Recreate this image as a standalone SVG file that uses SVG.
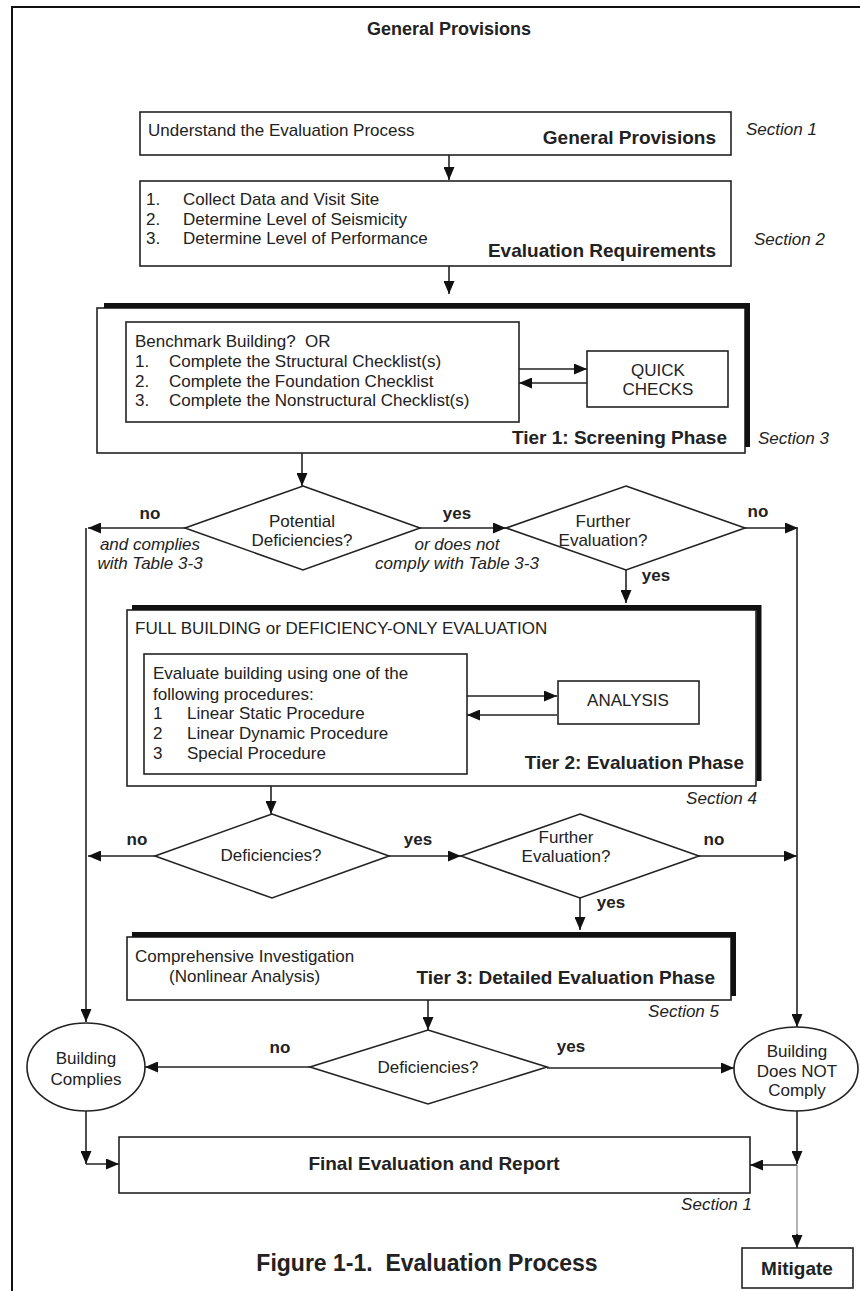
<svg xmlns="http://www.w3.org/2000/svg" width="860" height="1291" viewBox="0 0 860 1291">
<style>
text{font-family:"Liberation Sans",Arial,Helvetica,sans-serif;fill:#222;white-space:pre}
.t{font-size:17px}
.b{font-size:19px;font-weight:bold}
.l{font-size:17px;font-weight:bold}
.i{font-size:17px;font-style:italic}
.c{text-anchor:middle}
.e{text-anchor:end}
.box{fill:#fff;stroke:#222;stroke-width:1.6}
.sh{fill:none;stroke:#111;stroke-width:5}
.cn{fill:none;stroke:#222;stroke-width:1.6}
.thin{fill:none;stroke:#666;stroke-width:1}
</style>
<defs>
<marker id="ah" markerUnits="userSpaceOnUse" markerWidth="13" markerHeight="11" refX="13" refY="5.5" orient="auto">
<path d="M0,0 L13,5.5 L0,11 z" fill="#111"/>
</marker>
</defs>
<rect width="860" height="1291" fill="#fff"/>
<g id="frame"><path d="M12,1291 L12,7 L860,7" fill="none" stroke="#111" stroke-width="2"/></g>
<text class="b c" x="449" y="35" style="font-size:18px">General Provisions</text>

<g id="general-provisions">
<rect class="box" x="140" y="112" width="591" height="43"/>
<text class="t" x="148" y="136">Understand the Evaluation Process</text>
<text class="b e" x="716" y="144">General Provisions</text>
<text class="i" x="746" y="135">Section 1</text>
</g>

<g id="evaluation-requirements">
<rect class="box" x="140" y="181" width="591" height="85"/>
<text class="t" x="146" y="205">1.<tspan x="183">Collect Data and Visit Site</tspan></text>
<text class="t" x="146" y="225">2.<tspan x="183">Determine Level of Seismicity</tspan></text>
<text class="t" x="146" y="244">3.<tspan x="183">Determine Level of Performance</tspan></text>
<text class="b e" x="716" y="257">Evaluation Requirements</text>
<text class="i" x="754" y="245">Section 2</text>
</g>

<g id="tier1">
<rect class="box" x="97" y="308" width="648" height="145"/>
<path class="sh" d="M104,305.5 L747.5,305.5 L747.5,447"/>
<rect class="box" x="126" y="322" width="393" height="100"/>
<text class="t" x="135" y="347">Benchmark Building?  OR</text>
<text class="t" x="135" y="367">1.<tspan x="169">Complete the Structural Checklist(s)</tspan></text>
<text class="t" x="135" y="387">2.<tspan x="169">Complete the Foundation Checklist</tspan></text>
<text class="t" x="135" y="406">3.<tspan x="169">Complete the Nonstructural Checklist(s)</tspan></text>
<text class="b e" x="727" y="444">Tier 1: Screening Phase</text>
<text class="i" x="758" y="444">Section 3</text>
</g>

<g id="quick-checks">
<rect class="box" x="587" y="351" width="141" height="56"/>
<text class="t c" x="658" y="376">QUICK</text>
<text class="t c" x="658" y="395">CHECKS</text>
</g>

<g id="potential-deficiencies">
<polygon class="box" points="303,486 420,528 303,570 185,528"/>
<text class="t c" x="302" y="527">Potential</text>
<text class="t c" x="302" y="546">Deficiencies?</text>
</g>

<g id="further-evaluation-1">
<polygon class="box" points="626,486 745,528 626,570 506,528"/>
<text class="t c" x="603" y="527">Further</text>
<text class="t c" x="603" y="546">Evaluation?</text>
</g>

<g id="tier2">
<rect class="box" x="127" y="610" width="629" height="176"/>
<path class="sh" d="M132,607.5 L759,607.5 L759,781"/>
<text class="t" x="135" y="634">FULL BUILDING or DEFICIENCY-ONLY EVALUATION</text>
<rect class="box" x="144" y="654" width="323" height="120"/>
<text class="t" x="153" y="679">Evaluate building using one of the</text>
<text class="t" x="153" y="700">following procedures:</text>
<text class="t" x="153" y="719">1<tspan x="187">Linear Static Procedure</tspan></text>
<text class="t" x="153" y="739">2<tspan x="187">Linear Dynamic Procedure</tspan></text>
<text class="t" x="153" y="759">3<tspan x="187">Special Procedure</tspan></text>
<text class="b e" x="744" y="769">Tier 2: Evaluation Phase</text>
<text class="i e" x="757" y="804">Section 4</text>
</g>

<g id="analysis">
<rect class="box" x="558" y="681" width="141" height="43"/>
<text class="t c" x="628" y="706">ANALYSIS</text>
</g>

<g id="deficiencies-2">
<polygon class="box" points="272,814 389,856 272,898 155,856"/>
<text class="t c" x="271" y="861">Deficiencies?</text>
</g>

<g id="further-evaluation-2">
<polygon class="box" points="580,814 699,856 580,898 461,856"/>
<text class="t c" x="566" y="843">Further</text>
<text class="t c" x="566" y="862">Evaluation?</text>
</g>

<g id="tier3">
<rect class="box" x="127" y="937" width="604" height="63"/>
<path class="sh" d="M132,934.5 L733.5,934.5 L733.5,996"/>
<text class="t" x="135" y="962">Comprehensive Investigation</text>
<text class="t" x="169" y="982">(Nonlinear Analysis)</text>
<text class="b e" x="715" y="984">Tier 3: Detailed Evaluation Phase</text>
<text class="i e" x="719" y="1017">Section 5</text>
</g>

<g id="deficiencies-3">
<polygon class="box" points="428,1030 547,1067 428,1104 310,1067"/>
<text class="t c" x="428" y="1073">Deficiencies?</text>
</g>

<g id="building-complies">
<ellipse class="box" cx="86" cy="1067" rx="59" ry="44"/>
<text class="t c" x="86" y="1064">Building</text>
<text class="t c" x="86" y="1085">Complies</text>
</g>

<g id="building-does-not-comply">
<ellipse class="box" cx="796" cy="1069" rx="62" ry="42"/>
<text class="t c" x="797" y="1057">Building</text>
<text class="t c" x="797" y="1077">Does NOT</text>
<text class="t c" x="797" y="1096">Comply</text>
</g>

<g id="final-evaluation">
<rect class="box" x="119" y="1137" width="631" height="56"/>
<text class="b c" x="434" y="1170">Final Evaluation and Report</text>
<text class="i e" x="752" y="1210">Section 1</text>
</g>

<g id="mitigate">
<rect class="box" x="742" y="1248" width="111" height="40"/>
<text class="b c" x="797" y="1275">Mitigate</text>
</g>

<g id="connectors">
<line class="cn" x1="449" y1="155" x2="449" y2="180" marker-end="url(#ah)"/>
<line class="cn" x1="449" y1="266" x2="449" y2="294" marker-end="url(#ah)"/>
<line class="cn" x1="519" y1="369" x2="587" y2="369" marker-end="url(#ah)"/>
<line class="cn" x1="587" y1="383" x2="519" y2="383" marker-end="url(#ah)"/>
<line class="cn" x1="302" y1="453" x2="302" y2="486" marker-end="url(#ah)"/>
<line class="cn" x1="185" y1="528" x2="88" y2="528" marker-end="url(#ah)"/>
<line class="cn" x1="86" y1="528" x2="86" y2="1022" marker-end="url(#ah)"/>
<line class="cn" x1="420" y1="528" x2="506" y2="528" marker-end="url(#ah)"/>
<line class="cn" x1="745" y1="528" x2="798" y2="528" marker-end="url(#ah)"/>
<line class="cn" x1="797" y1="528" x2="797" y2="1027" marker-end="url(#ah)"/>
<line class="cn" x1="626" y1="570" x2="626" y2="603" marker-end="url(#ah)"/>
<line class="cn" x1="467" y1="696" x2="557" y2="696" marker-end="url(#ah)"/>
<line class="cn" x1="557" y1="715" x2="467" y2="715" marker-end="url(#ah)"/>
<line class="cn" x1="271" y1="786" x2="271" y2="814" marker-end="url(#ah)"/>
<line class="cn" x1="155" y1="856" x2="88" y2="856" marker-end="url(#ah)"/>
<line class="cn" x1="389" y1="856" x2="461" y2="856" marker-end="url(#ah)"/>
<line class="cn" x1="699" y1="856" x2="797" y2="856" marker-end="url(#ah)"/>
<line class="cn" x1="580" y1="898" x2="580" y2="930" marker-end="url(#ah)"/>
<line class="cn" x1="428" y1="1000" x2="428" y2="1030" marker-end="url(#ah)"/>
<line class="cn" x1="310" y1="1067" x2="145" y2="1067" marker-end="url(#ah)"/>
<line class="cn" x1="547" y1="1068" x2="734" y2="1068" marker-end="url(#ah)"/>
<line class="cn" x1="86" y1="1111" x2="86" y2="1164" marker-end="url(#ah)"/>
<line class="cn" x1="86" y1="1164" x2="119" y2="1164" marker-end="url(#ah)"/>
<line class="cn" x1="797" y1="1111" x2="797" y2="1164" marker-end="url(#ah)"/>
<line class="cn" x1="797" y1="1165" x2="750" y2="1165" marker-end="url(#ah)"/>
<line class="thin" x1="797" y1="1165" x2="797" y2="1236"/>
<line class="cn" x1="797" y1="1234" x2="797" y2="1248" marker-end="url(#ah)"/>
<text class="l c" x="150" y="519">no</text>
<text class="i c" x="150" y="550">and complies</text>
<text class="i c" x="150" y="569">with Table 3-3</text>
<text class="l c" x="457" y="519">yes</text>
<text class="i c" x="457" y="550">or does not</text>
<text class="i c" x="457" y="569">comply with Table 3-3</text>
<text class="l c" x="758" y="517">no</text>
<text class="l c" x="656" y="581">yes</text>
<text class="l c" x="137" y="845">no</text>
<text class="l c" x="418" y="845">yes</text>
<text class="l c" x="714" y="845">no</text>
<text class="l c" x="611" y="908">yes</text>
<text class="l c" x="280" y="1053">no</text>
<text class="l c" x="571" y="1052">yes</text>
</g>

<text class="b c" x="427" y="1271" style="font-size:23px">Figure 1-1.  Evaluation Process</text>
</svg>
